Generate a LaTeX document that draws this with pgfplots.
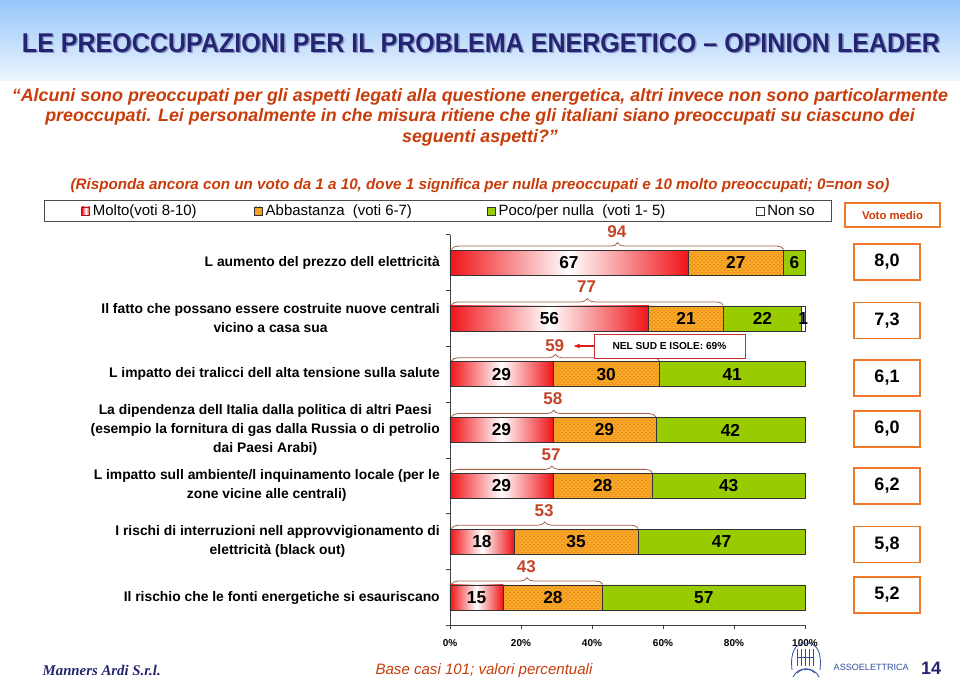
\documentclass[border=0pt]{standalone}
\usepackage{graphicx}
\usepackage{fontspec}
\setmainfont{Liberation Sans}
\newfontfamily\serifface{Liberation Serif}
\usepackage{pgfplots}
\pgfplotsset{compat=1.18}
\usetikzlibrary{patterns,decorations.pathreplacing,arrows.meta}

\definecolor{navy}{RGB}{36,36,112}
\definecolor{navyshadow}{RGB}{140,150,200}
\definecolor{headtop}{RGB}{150,198,250}
\definecolor{headbot}{RGB}{236,244,253}
\definecolor{qred}{RGB}{200,60,10}
\definecolor{barred}{RGB}{240,20,25}
\definecolor{barorange}{RGB}{250,168,40}
\definecolor{dotorange}{RGB}{215,115,15}
\definecolor{bargreen}{RGB}{153,204,0}
\definecolor{bracecol}{RGB}{165,95,70}
\definecolor{numcol}{RGB}{196,68,40}
\definecolor{votocol}{RGB}{240,120,40}
\definecolor{logoblue}{RGB}{50,80,160}
\definecolor{callred}{RGB}{200,50,50}
\definecolor{arrowred}{RGB}{220,30,30}

\newcommand\fs[2]{\fontsize{#1}{#2}\selectfont}

\pgfplotsset{
  sqleg/.style={legend image code/.code={\draw[##1,line width=0.6pt] (0pt,-3pt) rectangle (6pt,3pt);}},
  barbase/.style={xbar stacked, bar width=0.448, draw=black!80, line width=0.5pt, sqleg},
  redbar/.style={xbar, bar shift=0pt, stack plots=false, bar width=0.448, draw=black!80, line width=0.5pt,
    left color=barred, right color=barred, middle color=white, forget plot},
  seglabel/.style={draw=none, mark=none, forget plot, nodes near coords,
    point meta=explicit symbolic, nodes near coords align=center},
}

\begin{document}
\begin{tikzpicture}
% page frame and header, in pixel units
\begin{scope}[x=0.75pt,y=-0.75pt]
\path[use as bounding box, fill=white] (0,0) rectangle (960,681);
\shade[top color=headtop, bottom color=headbot] (0,0) rectangle (960,80);
\node[text=navyshadow] at (482.5,44.5) {\resizebox{688.5pt}{14.2pt}{\bfseries LE PREOCCUPAZIONI PER IL PROBLEMA ENERGETICO – OPINION LEADER}};
\node[text=navy] at (481,43) {\resizebox{688.5pt}{14.2pt}{\bfseries LE PREOCCUPAZIONI PER IL PROBLEMA ENERGETICO – OPINION LEADER}};

\begin{scope}[every node/.style={text=qred, font=\bfseries\itshape\fs{13.4}{15}}]
\node at (480,97) {“Alcuni sono preoccupati per gli aspetti legati alla questione energetica, altri invece non sono particolarmente};
\node at (480,117) {preoccupati. Lei personalmente in che misura ritiene che gli italiani siano preoccupati su ciascuno dei};
\node at (480,138) {seguenti aspetti?”};
\node[font=\bfseries\itshape\fs{11.4}{13}] at (480,186) {(Risponda ancora con un voto da 1 a 10, dove 1 significa per nulla preoccupati e 10 molto preoccupati; 0=non so)};
\end{scope}

\node[draw=votocol, line width=1.1pt, minimum width=71.25pt, minimum height=18pt, text=qred, font=\bfseries\fs{8.5}{10}] at (892.5,215) {Voto medio};
\end{scope}

\begin{axis}[
  at={(337.5pt,-469.05pt)}, anchor=south west,
  width=266.25pt, height=293.1pt, scale only axis,
  xmin=0, xmax=100, ymin=-0.5, ymax=6.5,
  axis x line*=bottom, axis y line*=left,
  axis line style={black!75, line width=0.6pt},
  xtick={0,20,...,100},
  xticklabel={\pgfmathprintnumber{\tick}\%},
  xticklabel style={font=\bfseries\fs{7.5}{9}, yshift=-4pt},
  ytick={-0.5,0.5,...,6.5}, yticklabels={},
  tick align=outside, major tick length=3pt,
  tick style={black!75, line width=0.6pt},
  extra y ticks={0,1,2,3,4,5,6},
  extra y tick labels={
    {Il rischio che le fonti energetiche si esauriscano},
    {I rischi di interruzioni nell approvvigionamento di\\elettricità (black out)},
    {L impatto sull ambiente/l inquinamento locale (per le\\zone vicine alle centrali)},
    {La dipendenza dell Italia dalla politica di altri Paesi\\(esempio la fornitura di gas dalla Russia o di petrolio\\dai Paesi Arabi)},
    {L impatto dei tralicci dell alta tensione sulla salute},
    {Il fatto che possano essere costruite nuove centrali\\vicino a casa sua},
    {L aumento del prezzo dell elettricità}},
  extra y tick style={major tick length=0pt,
    yticklabel style={align=center, font=\bfseries\fs{10.4}{14.2}, inner xsep=0pt, xshift=-7.5pt}},
  /pgf/number format/assume math mode=true,
  clip=false,
  legend columns=4,
  legend cell align=left,
  legend style={at={(-1.1437,1.0885)}, anchor=north west, draw=black!70, line width=0.75pt, fill=white,
    inner xsep=27.75pt, inner ysep=2pt, font=\fs{11.2}{12.5},
    /tikz/every even column/.append style={column sep=0pt},
    nodes={inner xsep=0pt, inner ysep=1pt}},
]
% Molto (voti 8-10): invisible here, it only carries the stack; drawn below bar by bar
\addplot[barbase, draw=none, fill=none,
  legend image code/.code={\draw[draw=barred!75!black, line width=0.6pt, left color=barred, right color=barred, middle color=white] (0pt,-3pt) rectangle (6pt,3pt);}]
  coordinates {(67,6) (56,5) (29,4) (29,3) (29,2) (18,1) (15,0)};
\addlegendentry{\makebox[123pt][l]{\hspace{2pt}Molto(voti 8-10)}}
% Abbastanza (voti 6-7)
\addplot[barbase, fill=barorange, postaction={pattern=crosshatch dots, pattern color=dotorange}]
  coordinates {(27,6) (21,5) (30,4) (29,3) (28,2) (35,1) (28,0)};
\addlegendentry{\makebox[168pt][l]{\hspace{2pt}Abbastanza\ \ (voti 6-7)}}
% Poco/per nulla (voti 1-5)
\addplot[barbase, fill=bargreen]
  coordinates {(6,6) (22,5) (41,4) (42,3) (43,2) (47,1) (57,0)};
\addlegendentry{\makebox[195pt][l]{\hspace{2pt}Poco/per nulla\ \ (voti 1- 5)}}
% Non so
\addplot[barbase, fill=white]
  coordinates {(0,6) (1,5) (0,4) (0,3) (0,2) (0,1) (0,0)};
\addlegendentry{\makebox[22.5pt][l]{\hspace{2pt}Non so}}

% Molto bars, one plot each so that each bar gets its own red-white-red shading
\addplot[redbar] coordinates {(67,6)};
\addplot[redbar] coordinates {(56,5)};
\addplot[redbar] coordinates {(29,4)};
\addplot[redbar] coordinates {(29,3)};
\addplot[redbar] coordinates {(29,2)};
\addplot[redbar] coordinates {(18,1)};
\addplot[redbar] coordinates {(15,0)};

% segment labels
\addplot[seglabel, every node near coord/.append style={font=\bfseries\fs{13}{14}, text=black}]
  coordinates {
  (33.5,6)[67] (80.5,6)[27] (97,6)[6]
  (28,5)[56] (66.5,5)[21] (88,5)[22] (99.5,5)[1]
  (14.5,4)[29] (44,4)[30] (79.5,4)[41]
  (14.5,3)[29] (43.5,3)[29] (79,3)[42]
  (14.5,2)[29] (43,2)[28] (78.5,2)[43]
  (9,1)[18] (35.5,1)[35] (76.5,1)[47]
  (7.5,0)[15] (29,0)[28] (71.5,0)[57]};

% Molto + Abbastanza totals above the braces
\addplot[seglabel, every node near coord/.append style={font=\bfseries\fs{12.75}{14}, text=numcol}]
  coordinates {(47,6.56)[94] (38.5,5.56)[77] (29.5,4.52)[59] (29,3.56)[58]
  (28.5,2.56)[57] (26.5,1.56)[53] (21.5,0.56)[43]};

\draw[bracecol, line width=0.6pt, decorate, decoration={brace, amplitude=5pt}] (axis cs:0.4,6.235) -- (axis cs:94,6.235);
\draw[bracecol, line width=0.6pt, decorate, decoration={brace, amplitude=5pt}] (axis cs:0.4,5.235) -- (axis cs:77,5.235);
\draw[bracecol, line width=0.6pt, decorate, decoration={brace, amplitude=5pt}] (axis cs:0.4,4.235) -- (axis cs:59,4.235);
\draw[bracecol, line width=0.6pt, decorate, decoration={brace, amplitude=5pt}] (axis cs:0.4,3.235) -- (axis cs:58,3.235);
\draw[bracecol, line width=0.6pt, decorate, decoration={brace, amplitude=5pt}] (axis cs:0.4,2.235) -- (axis cs:57,2.235);
\draw[bracecol, line width=0.6pt, decorate, decoration={brace, amplitude=5pt}] (axis cs:0.4,1.235) -- (axis cs:53,1.235);
\draw[bracecol, line width=0.6pt, decorate, decoration={brace, amplitude=5pt}] (axis cs:0.4,0.235) -- (axis cs:43,0.235);

% voto medio
\addplot[seglabel, every node near coord/.append style={draw=votocol, line width=1.1pt, fill=white,
    minimum width=49.5pt, minimum height=27pt, font=\bfseries\fs{13.5}{15}, text=black}]
  coordinates {(123.1,6.009)[{8,0}] (123.1,4.961)[{7,3}] (123.1,3.932)[{6,1}] (123.1,3.018)[{6,0}]
  (123.1,1.997)[{6,2}] (123.1,0.949)[{5,8}] (123.1,0.045)[{5,2}]};
\end{axis}

% callout and footer, in pixel units
\begin{scope}[x=0.75pt,y=-0.75pt]
\node[draw=callred, line width=0.6pt, fill=white, minimum width=113.25pt, minimum height=18pt,
  font=\bfseries\fs{7.6}{9}] at (669.5,346) {NEL SUD E ISOLE: 69\%};
\draw[-{Latex[length=5pt]}, arrowred, line width=0.8pt] (594,346) -- (573,346);

\node[anchor=west, text=navy, font=\serifface\bfseries\itshape\fs{11.1}{12}] at (38,670) {Manners Ardi S.r.l.};
\node[text=qred, font=\itshape\fs{11.3}{13}] at (484,671) {Base casi 101; valori percentuali};
\node[anchor=west, text=logoblue, font=\fs{6.8}{8}] at (829,667) {ASSOELETTRICA};
\node[text=navy, font=\bfseries\fs{13.5}{15}] at (931,668) {14};

\begin{scope}[logoblue, line width=0.6pt]
\draw (792,670) .. controls (790,652) and (795,643) .. (806,643) .. controls (817,643) and (822,652) .. (820,670);
\draw (793,677) .. controls (798,666) and (814,666) .. (819,677);
\draw (797,673) .. controls (801,668) and (811,668) .. (815,673);
\foreach \xx in {797,801,805,809,813} \draw (\xx,649) -- (\xx,666);
\draw (797,657) -- (813,657);
\end{scope}
\end{scope}
\end{tikzpicture}
\end{document}
